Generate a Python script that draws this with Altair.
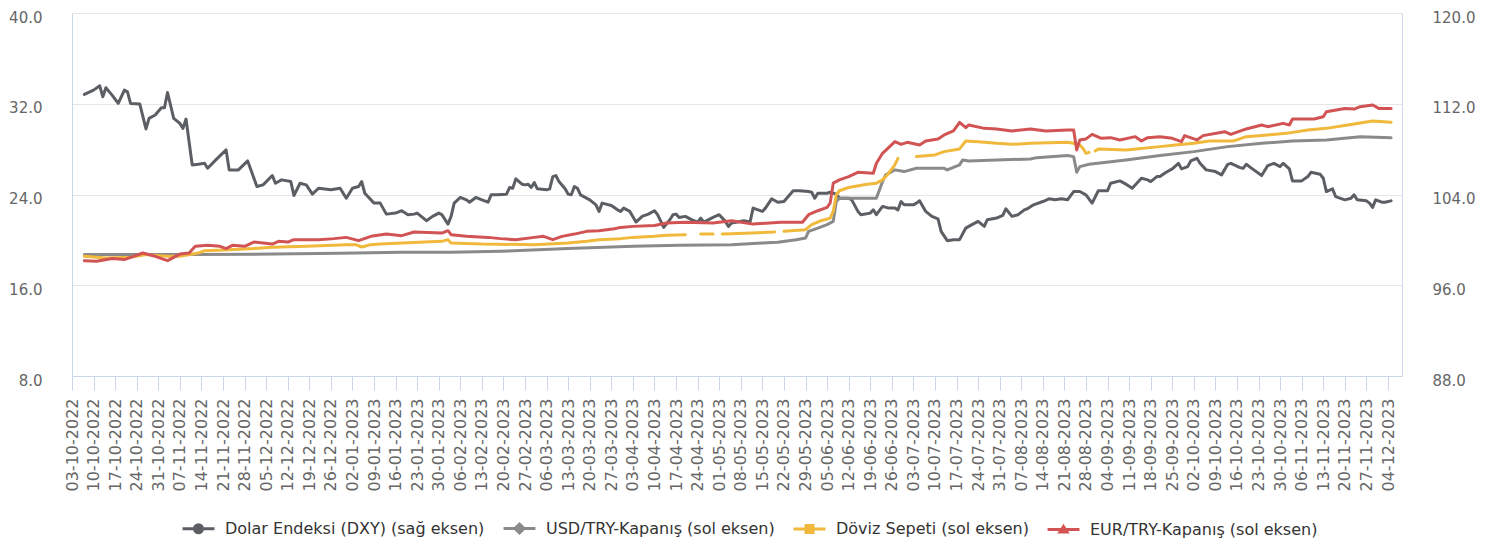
import altair as alt
import pandas as pd

# ---------------- data ----------------
# x values are days after 03-10-2022
START = "2022-10-03"

dxy = [(4,112.82),(7,113.20),(9,113.58),(10,112.62),(11,113.41),(13,112.76),(15,112.03),(17,113.20),
       (18,113.05),(19,112.03),(22,111.97),(24,109.78),(25,110.71),(27,111.01),(29,111.65),(30,111.65),
       (31,112.99),(33,110.71),(35,110.27),(36,109.83),(37,110.65),(39,106.61),(41,106.66),(43,106.75),
       (44,106.31),(47,107.14),(50,107.93),(51,106.17),(54,106.17),(57,106.96),(60,104.70),(62,104.85),
       (65,105.67),(66,104.99),(68,105.29),(71,105.14),(72,103.91),(74,104.99),(76,104.85),(78,104.03),
       (80,104.55),(84,104.41),(87,104.55),(89,103.67),(91,104.55),(93,104.70),(94,105.14),(95,104.11),
       (98,103.24),(100,103.24),(102,102.27),(105,102.36),(107,102.57),(109,102.22),(111,102.27),
       (112,102.36),(115,101.69),(117,102.07),(119,102.36),(120,102.22),(122,101.39),(123,102.07),
       (124,103.24),(126,103.74),(128,103.53),(129,103.32),(131,103.74),(133,103.53),(135,103.32),
       (136,103.97),(138,103.97),(141,104.03),(142,104.62),(143,104.55),(144,105.38),(146,104.91),
       (147,104.85),(148,104.91),(149,104.62),(150,105.05),(151,104.50),(154,104.41),(155,104.50),
       (156,105.58),(157,105.67),(158,105.14),(160,104.50),(161,104.03),(162,103.97),(163,104.70),
       (164,104.55),(165,103.97),(168,103.53),(170,103.09),(171,102.51),(172,103.24),(175,103.03),
       (177,102.65),(178,102.51),(179,102.80),(181,102.51),(183,101.57),(185,102.07),(187,102.27),
       (189,102.57),(190,102.22),(192,101.10),(194,101.78),(195,102.22),(196,102.27),(197,101.98),
       (199,102.07),(201,101.78),(203,101.57),(204,101.92),(205,101.57),(208,101.98),(210,102.22),
       (212,101.63),(213,101.19),(214,101.48),(216,101.57),(218,101.69),(220,101.57),(221,102.80),
       (224,102.51),(225,102.80),(227,103.62),(229,103.32),(231,103.38),(234,104.33),(236,104.33),
       (239,104.26),(240,104.20),(241,103.67),(242,104.11),(245,104.11),(246,104.20),(248,104.03),
       (249,103.67),(252,103.67),(253,103.53),(255,102.51),(256,102.22),(259,102.36),(260,102.65),
       (261,102.22),(263,102.95),(265,102.80),(267,102.80),(268,102.65),(269,103.38),(270,103.09),
       (273,103.09),(274,103.24),(275,103.45),(277,102.51),(279,102.07),(281,101.86),(282,100.75),
       (284,99.93),(286,100.02),(288,100.02),(290,101.04),(292,101.34),(294,101.63),(296,101.19),
       (297,101.78),(300,101.92),(302,102.15),(303,102.74),(305,102.07),(307,102.22),(309,102.65),
       (310,102.74),(312,103.09),(315,103.38),(317,103.62),(319,103.53),(321,103.62),(323,103.53),
       (325,104.26),(327,104.26),(329,103.97),(331,103.24),(333,104.33),(336,104.33),(337,104.99),
       (340,105.20),(342,104.91),(344,104.55),(347,105.43),(349,105.29),(350,105.14),(352,105.58),
       (353,105.58),(355,105.96),(357,106.26),(359,106.75),(360,106.26),(362,106.46),(363,106.96),
       (365,107.19),(366,106.75),(368,106.17),(371,106.02),(373,105.73),(375,106.66),(376,106.75),
       (379,106.37),(380,106.31),(381,106.66),(383,106.26),(386,105.67),(388,106.55),(390,106.75),
       (392,106.46),(393,106.75),(395,106.26),(396,105.20),(399,105.20),(401,105.58),(402,105.96),
       (405,105.78),(406,105.43),(407,104.26),(409,104.50),(410,103.82),(413,103.53),(415,103.67),
       (416,103.97),(417,103.53),(420,103.44),(421,103.24),(422,102.86),(423,103.53),(425,103.32),
       (426,103.32),(428,103.44)]

usd_try = [(4,18.70),(32,18.70),(39,18.70),(65,18.75),(87,18.81),(107,18.90),(123,18.90),(139,18.99),
           (161,19.23),(182,19.43),(197,19.52),(214,19.58),(224,19.72),(229,19.80),(235,20.02),
           (238,20.16),(239,20.75),(242,21.04),(245,21.34),(247,21.63),(248,23.38),(249,23.68),
           (261,23.68),(263,25.14),(264,25.73),(267,26.17),(270,26.02),(274,26.31),(283,26.31),
           (284,26.17),(288,26.61),(289,27.05),(291,26.96),(300,27.05),(311,27.13),(313,27.25),
           (323,27.43),(325,27.34),(326,25.96),(327,26.46),(330,26.66),(342,27.05),(353,27.43),
           (364,27.78),(375,28.22),(386,28.51),(396,28.72),(407,28.81),(418,29.10),(428,29.01)]

# the basket line has gaps (missing days) -> separate pieces
doviz_sepeti = [
    [(4,18.55),(11,18.40),(19,18.46),(24,18.70),(31,18.55),(35,18.55),(41,18.84),(43,19.05),(51,19.14),
     (59,19.23),(65,19.34),(76,19.43),(89,19.58),(92,19.58),(94,19.37),(97,19.58),(100,19.63),
     (107,19.72),(120,19.87),(122,20.02),(123,19.72),(133,19.63),(150,19.58),(161,19.72),(167,19.87),
     (171,20.02),(178,20.11),(182,20.22),(189,20.31),(193,20.40),(199,20.46)],
    [(204,20.51),(208,20.51)],
    [(211,20.51),(214,20.55),(228,20.69)],
    [(231,20.75),(238,20.90),(240,21.34),(243,21.69),(246,21.92),(247,22.51),(248,23.98),(249,24.33),
     (252,24.62),(258,24.91),(261,25.00),(263,25.29),(265,25.88),(267,26.61),(268,27.19)],
    [(274,27.34),(280,27.49),(283,27.78),(288,28.02),(290,28.72),(294,28.66),(300,28.51),(305,28.42),
     (311,28.51),(323,28.60),(325,28.51),(327,28.37),(328,28.07),(329,27.63),(330,27.72)],
    [(332,27.84),(333,28.02),(342,27.93),(353,28.22),(358,28.37),(364,28.51),(369,28.72),(377,28.72),
     (381,29.10),(388,29.25),(394,29.39),(401,29.69),(407,29.83),(415,30.18),(422,30.48),(428,30.36)],
]

eur_try = [(4,18.17),(8,18.11),(13,18.35),(17,18.26),(23,18.84),(27,18.55),(31,18.17),(35,18.75),
           (38,18.84),(40,19.43),(44,19.52),(48,19.43),(50,19.23),(52,19.52),(56,19.43),(59,19.81),
           (65,19.63),(67,19.87),(70,19.81),(72,20.02),(80,20.02),(85,20.11),(89,20.22),(93,19.93),
           (97,20.31),(102,20.51),(107,20.37),(111,20.69),(120,20.60),(122,20.81),(123,20.46),
           (128,20.31),(135,20.22),(139,20.11),(144,20.02),(150,20.22),(153,20.31),(156,20.02),
           (159,20.31),(163,20.51),(167,20.75),(171,20.81),(176,20.98),(178,21.10),(182,21.19),
           (189,21.27),(193,21.48),(199,21.56),(208,21.48),(214,21.69),(221,21.39),(230,21.56),
           (237,21.56),(239,22.22),(242,22.57),(245,22.86),(246,23.24),(247,25.00),(249,25.29),
           (252,25.58),(255,25.96),(260,25.87),(261,26.75),(263,27.63),(267,28.66),(269,28.42),
           (271,28.60),(275,28.37),(277,28.72),(281,28.90),(283,29.25),(286,29.60),(288,30.36),
           (290,29.89),(291,30.13),(296,29.83),(300,29.78),(305,29.60),(311,29.78),(316,29.60),
           (323,29.69),(325,29.69),(326,27.93),(327,28.81),(329,28.90),(331,29.30),(334,28.95),
           (337,29.01),(340,28.81),(345,29.10),(347,28.72),(349,29.01),(353,29.10),(357,28.95),
           (360,28.66),(361,29.19),(365,28.81),(367,29.19),(374,29.54),(376,29.30),(381,29.78),
           (386,30.13),(388,29.98),(393,30.27),(395,30.13),(396,30.65),(403,30.65),(406,30.86),
           (407,31.30),(413,31.59),(416,31.53),(418,31.74),(422,31.89),(424,31.59),(428,31.59)]

series_names = ["Dolar Endeksi (DXY) (sağ eksen)", "USD/TRY-Kapanış (sol eksen)",
                "Döviz Sepeti (sol eksen)", "EUR/TRY-Kapanış (sol eksen)"]
series_colors = ["#5b5f64", "#8a8a8a", "#f0b93b", "#d15353"]
left_ticks = [8, 16, 24, 32, 40]
right_ticks = [88, 96, 104, 112, 120]
x_tick_dates = pd.date_range("2022-10-03", "2023-12-04", freq="7D")

# ---------------- table ----------------
rows = []
def add(name, pts, seg=0):
    for d, v in pts:
        rows.append({"date": pd.Timestamp(START) + pd.Timedelta(days=d),
                     "series": name, "value": v, "seg": seg})

add(series_names[0], dxy)
add(series_names[1], usd_try)
for i, piece in enumerate(doviz_sepeti):
    add(series_names[2], piece, i)
add(series_names[3], eur_try)
df = pd.DataFrame(rows)

FONT = "DejaVu Sans"
AX_BLUE = "#ccd6eb"
LBL = "#666666"

# legend symbols (stroked): a short line with a marker (circle, diamond, square, triangle)
bar = "M-1.33,0H1.33 "
paths = [
    bar + "M-0.333,0A0.333,0.333 0 1,1 0.333,0A0.333,0.333 0 1,1 -0.333,0Z "
          "M-0.125,0A0.125,0.125 0 1,1 0.125,0A0.125,0.125 0 1,1 -0.125,0Z",
    bar + "M0,-0.375L0.375,0L0,0.375L-0.375,0Z M0,-0.125L0.125,0L0,0.125L-0.125,0Z",
    bar + "M-0.292,-0.292H0.292V0.292H-0.292Z M-0.083,-0.083H0.083V0.083H-0.083Z",
    bar + "M0,-0.25L0.292,0.208L-0.292,0.208Z M0,-0.04L0.083,0.083L-0.083,0.083Z",
]
shape_expr = "[" + ",".join("'" + p + "'" for p in paths) + "][datum.index]"

color = alt.Color(
    "series:N",
    scale=alt.Scale(domain=series_names, range=series_colors),
    legend=alt.Legend(
        title=None, orient="none", direction="horizontal", legendX=113, legendY=502,
        labelFont=FONT, labelFontSize=16, labelColor="#333333", labelLimit=400,
        symbolSize=576, labelOffset=13, columnPadding=12, padding=0,
        symbolType=alt.ExprRef(expr=shape_expr), symbolStrokeWidth=3,
        symbolFillColor="transparent", symbolOpacity=1,
    ),
)

x = alt.X(
    "date:T",
    scale=alt.Scale(domain=[alt.DateTime(year=2022, month=10, date=3),
                            alt.DateTime(year=2023, month=12, date=8, hours=13)], nice=False),
    axis=alt.Axis(
        values=[alt.DateTime(year=t.year, month=t.month, date=t.day) for t in x_tick_dates],
        format="%d-%m-%Y", labelAngle=270, grid=False, domainColor=AX_BLUE, tickColor=AX_BLUE,
        tickSize=14, labelPadding=8, labelFont=FONT, labelFontSize=16, labelColor=LBL,
        labelOverlap=False, labelFlush=False, title=None,
    ),
)

line_kw = dict(strokeWidth=3, strokeJoin="round", strokeCap="round")

dxy_layer = alt.Chart(df).transform_filter(
    alt.datum.series == series_names[0]
).mark_line(**line_kw).encode(
    x=x,
    y=alt.Y("value:Q", scale=alt.Scale(domain=[88, 120], nice=False, zero=False),
            axis=alt.Axis(orient="right", values=right_ticks, format=".1f", grid=False, ticks=False,
                          domainColor=AX_BLUE, labelPadding=30, labelFont=FONT, labelFontSize=15,
                          labelColor=LBL, labelOffset=4, title=None)),
    color=color,
)

left_axis = alt.Axis(orient="left", values=left_ticks, format=".1f", grid=True, gridColor="#e6e6e6",
                     ticks=False, domainColor=AX_BLUE, labelPadding=30, labelFont=FONT,
                     labelFontSize=15, labelColor=LBL, labelOffset=4, title=None)

def left_layer(name):
    return alt.Chart(df).transform_filter(alt.datum.series == name).mark_line(**line_kw).encode(
        x=x,
        y=alt.Y("value:Q", scale=alt.Scale(domain=[8, 40], nice=False, zero=False), axis=left_axis),
        color=color,
        detail="seg:N",
    )

left = alt.layer(left_layer(series_names[1]), left_layer(series_names[2]), left_layer(series_names[3]))

chart = alt.layer(dxy_layer, left).resolve_scale(y="independent").properties(
    width=1330, height=363,
    autosize=alt.AutoSizeParams(type="none"),
    padding={"left": 64, "top": 5, "right": 80, "bottom": 166},
).configure(font=FONT).configure_view(strokeWidth=0)

chart.save("out.html", embed_options={"renderer": "svg", "actions": False})
